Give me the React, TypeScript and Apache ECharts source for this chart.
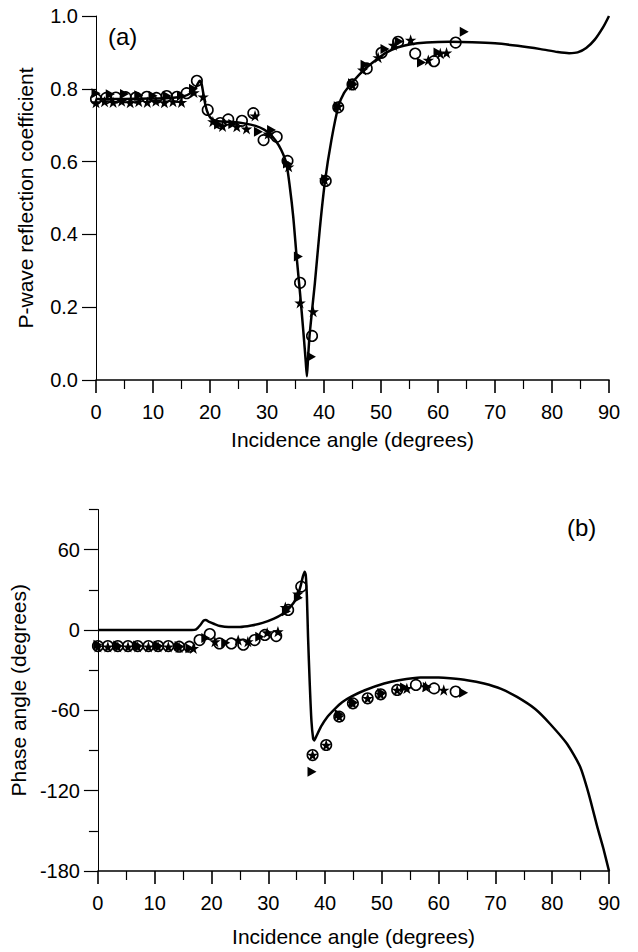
import React, { useEffect, useRef } from "react";
import * as echarts from "echarts";

const FONT = "'Liberation Sans', Arial, Helvetica, sans-serif";

const xTitle = "Incidence angle (degrees)";
const yTitleA = "P-wave reflection coefficient";
const yTitleB = "Phase angle (degrees)";
const panelLabels = ["(a)", "(b)"];

const phaseMajorTicks = [-180, -120, -60, 0, 60];
const phaseMinorTicks = [-150, -90, -30, 30, 90];

// (a) theoretical reflection coefficient curve [angle, |R|]
const curveA: [number, number][] = [
  [0, 0.772], [4, 0.772], [8, 0.773], [12, 0.774], [14, 0.776], [15.5, 0.78],
  [16.5, 0.787], [17.3, 0.798], [17.8, 0.812], [18.2, 0.822], [18.5, 0.815],
  [18.8, 0.79], [19.2, 0.755], [19.7, 0.73], [20.3, 0.717], [21, 0.712],
  [22, 0.71], [24, 0.709], [26, 0.705], [28, 0.698], [29.5, 0.688],
  [30.5, 0.676], [31.5, 0.658], [32.5, 0.632], [33.4, 0.595], [34, 0.531],
  [34.6, 0.449], [35.2, 0.338], [35.8, 0.238], [36.4, 0.129], [36.8, 0.05],
  [37, 0.01], [37.2, 0.06], [37.5, 0.129], [38.4, 0.266], [39.3, 0.421],
  [40.2, 0.549], [41.3, 0.659], [42.5, 0.75], [43.5, 0.788], [45, 0.818],
  [47, 0.852], [49, 0.878], [51, 0.9], [53, 0.914], [55, 0.922], [58, 0.927],
  [62, 0.929], [66, 0.928], [70, 0.925], [74, 0.918], [78, 0.909], [81, 0.901],
  [83, 0.898], [84.5, 0.9], [86, 0.912], [87.5, 0.935], [89, 0.97], [90, 1.0],
];

// (a) measured points
const circlesA: [number, number][] = [
  [0, 0.772], [1.8, 0.775], [3.5, 0.776], [5.2, 0.777], [7, 0.776], [8.9, 0.778],
  [10.6, 0.775], [12.4, 0.78], [14.2, 0.778], [15.9, 0.788], [17.7, 0.822],
  [19.6, 0.742], [21.8, 0.706], [23.2, 0.716], [25.6, 0.712], [27.6, 0.733],
  [29.4, 0.659], [31.7, 0.668], [33.6, 0.602], [35.8, 0.267], [37.9, 0.121],
  [40.3, 0.547], [42.5, 0.749], [45, 0.812], [47.5, 0.856], [50.1, 0.899],
  [53, 0.929], [56, 0.897], [59.3, 0.876], [63.1, 0.927],
];
const starsA: [number, number][] = [
  [0, 0.762], [1.5, 0.765], [3, 0.763], [4.5, 0.766], [6, 0.762], [7.5, 0.765],
  [9, 0.763], [10.5, 0.766], [12, 0.762], [13.5, 0.765], [15, 0.763],
  [17.2, 0.79], [18.8, 0.778], [20.5, 0.71], [22.2, 0.697], [24.7, 0.696],
  [26.4, 0.69], [27.9, 0.726], [30.2, 0.676], [33.8, 0.586], [35.8, 0.212],
  [38.1, 0.188], [40.1, 0.55], [42.5, 0.752], [45, 0.81], [46.8, 0.852],
  [49.5, 0.886], [52.2, 0.92], [55.2, 0.934], [58.3, 0.879], [60.4, 0.897],
  [61.5, 0.899],
];
const trianglesA: [number, number][] = [
  [0, 0.788], [2.5, 0.785], [5, 0.786], [7.5, 0.782], [10, 0.781], [12.5, 0.78],
  [15, 0.781], [17.1, 0.8], [21.5, 0.702], [24, 0.703], [28.5, 0.682],
  [30.8, 0.687], [33.6, 0.595], [35.5, 0.339], [37.8, 0.064], [40.3, 0.552],
  [42.5, 0.752], [45, 0.815], [47.2, 0.866], [50.7, 0.909], [53.2, 0.93],
  [57.1, 0.872], [60, 0.9], [64.6, 0.957],
];

// (b) theoretical phase curve [angle, degrees]
const curveB: [number, number][] = [
  [0, 0], [10, 0], [16.5, 0], [17.3, 0.5], [18, 3.5], [18.6, 7], [19, 7.5],
  [19.6, 6], [20.5, 4.5], [21.5, 3], [23, 2.2], [25, 2.2], [27, 3.3],
  [29, 5.3], [31, 8.5], [32.5, 12], [33.5, 15.5], [34.5, 20.5], [35.2, 26],
  [35.7, 33], [36.1, 40], [36.4, 43.5], [36.6, 41], [36.8, 25], [37, -5],
  [37.3, -40], [37.6, -68], [37.9, -81], [38.1, -82.5], [38.5, -79],
  [39.3, -72], [40.3, -65.5], [41.6, -59.5], [43, -54], [44.6, -49.8],
  [47, -45], [50.4, -40], [53, -37.5], [56.8, -35.4], [60, -35.5], [62, -36.1],
  [65, -37.5], [68, -40], [71, -44], [73.8, -50], [77, -59], [79.6, -70],
  [82.6, -85], [84.9, -102], [86.4, -122], [88, -148], [89, -163], [90, -180],
];

// (b) measured points
const circlesB: [number, number][] = [
  [0, -12], [1.75, -12], [3.5, -12], [5.3, -12], [7, -12], [8.9, -12],
  [10.6, -12], [12.4, -12], [14.3, -12.5], [16.1, -12.5], [17.9, -7.5],
  [19.7, -3], [21.4, -10], [23.5, -10], [25.6, -11], [27.6, -7.5],
  [29.4, -3.7], [31.4, -4.5], [33.5, 15], [35.8, 32.4], [37.8, -93.4],
  [40.2, -85.9], [42.5, -64.7], [44.9, -54.8], [47.5, -51], [49.8, -48],
  [52.7, -44.8], [56, -41], [59.2, -43.6], [63, -46],
];
const starsB: [number, number][] = [
  [0, -12.5], [1.75, -12.5], [3.5, -12.5], [5.3, -12.5], [7, -12.5],
  [8.9, -12.5], [10.6, -12.5], [12.4, -12.5], [14.3, -13], [16.8, -13.7],
  [20.6, -8.7], [24.7, -7.5], [26.4, -8.7], [29.8, -2], [31.7, -1.2],
  [33, 17], [35.2, 27], [37.8, -93.4], [40.2, -85.9], [42.5, -64.7],
  [44.9, -54.8], [47.5, -51], [49.8, -48], [52.7, -44.8], [54.4, -43.6],
  [57.7, -42.3], [60.9, -44.8],
];
const trianglesB: [number, number][] = [
  [0, -11], [3.5, -11.5], [7, -11.5], [10.6, -11.5], [14.3, -12],
  [16.2, -13.7], [19, -6], [22.5, -9.5], [28.5, -5], [33.2, 14], [35.3, 24],
  [37.7, -105.8], [42.5, -63], [45, -54], [50, -47], [54, -43], [58, -42.5],
  [64.4, -46.8],
];

const STAR =
  "path://M12,0 L14.8,8.6 L23.4,8.6 L16.4,13.8 L19.1,22.4 L12,17.2 L4.9,22.4 L7.6,13.8 L0.6,8.6 L9.2,8.6 Z";
const TRI = "path://M0,0 L10,5 L0,10 Z";

function xAxisFor(gridIndex: number, nameGap: number) {
  return {
    type: "value",
    gridIndex,
    min: 0,
    max: 90,
    interval: 10,
    axisLine: { show: true, onZero: false, lineStyle: { color: "#000", width: 1.6 } },
    axisTick: { show: true, inside: false, length: 13, lineStyle: { color: "#000", width: 1.6 } },
    minorTick: { show: true, splitNumber: 2, length: 9, lineStyle: { color: "#000", width: 1.2 } },
    splitLine: { show: false },
    minorSplitLine: { show: false },
    axisLabel: { fontSize: 20, color: "#000", margin: 22, fontFamily: FONT },
    name: xTitle,
    nameLocation: "middle",
    nameGap,
    nameTextStyle: { fontSize: 21, color: "#000", fontFamily: FONT },
  };
}

function scatter(name: string, data: [number, number][], idx: number, kind: string) {
  const base: any = {
    name,
    type: "scatter",
    xAxisIndex: idx,
    yAxisIndex: idx,
    data,
    z: 3,
  };
  if (kind === "circle") {
    base.symbol = "circle";
    base.symbolSize = 10.5;
    base.itemStyle = { color: "rgba(255,255,255,0)", borderColor: "#000", borderWidth: 1.6, opacity: 1 };
    base.z = 4;
  } else if (kind === "star") {
    base.symbol = STAR;
    base.symbolSize = 11.5;
    base.symbolKeepAspect = true;
    base.itemStyle = { color: "#000", opacity: 1 };
  } else {
    base.symbol = TRI;
    base.symbolSize = [9, 10];
    base.itemStyle = { color: "#000", opacity: 1 };
  }
  return base;
}

export default function App() {
  const ref = useRef<HTMLDivElement>(null);
  useEffect(() => {
    document.body.style.margin = "0";
    const chart = echarts.init(ref.current!, null, { renderer: "svg" });
    const option: any = {
      animation: false,
      backgroundColor: "#fff",
      textStyle: { fontFamily: FONT },
      grid: [
        { left: 96, top: 16, width: 513, height: 364 },
        { left: 96, top: 509.5, width: 513, height: 361.5 },
      ],
      xAxis: [xAxisFor(0, 49), xAxisFor(1, 55)],
      yAxis: [
        {
          type: "value",
          gridIndex: 0,
          min: 0,
          max: 1,
          interval: 0.2,
          axisLine: { show: true, lineStyle: { color: "#000", width: 1 } },
          axisTick: { show: true, inside: false, length: 14, lineStyle: { color: "#000", width: 1.2 } },
          splitLine: { show: false },
          axisLabel: {
            fontSize: 20,
            color: "#000",
            margin: 18,
            fontFamily: FONT,
            formatter: (v: number) => v.toFixed(1),
          },
          name: yTitleA,
          nameLocation: "middle",
          nameGap: 60,
          nameRotate: 90,
          nameTextStyle: { fontSize: 21, color: "#000", fontFamily: FONT },
        },
        {
          type: "value",
          gridIndex: 1,
          min: -180,
          max: 90,
          interval: 60,
          axisLine: { show: true, lineStyle: { color: "#000", width: 1 } },
          axisTick: {
            show: true,
            inside: false,
            length: 14,
            customValues: phaseMajorTicks,
            lineStyle: { color: "#000", width: 1.2 },
          },
          splitLine: { show: false },
          axisLabel: {
            fontSize: 20,
            color: "#000",
            margin: 18,
            fontFamily: FONT,
            customValues: phaseMajorTicks,
          },
          name: yTitleB,
          nameLocation: "middle",
          nameGap: 60,
          nameRotate: 90,
          nameTextStyle: { fontSize: 21, color: "#000", fontFamily: FONT },
        },
        {
          type: "value",
          gridIndex: 1,
          min: -180,
          max: 90,
          interval: 30,
          position: "left",
          offset: 0,
          axisLine: { show: false },
          axisTick: {
            show: true,
            inside: false,
            length: 9,
            customValues: phaseMinorTicks,
            lineStyle: { color: "#000", width: 1.2 },
          },
          splitLine: { show: false },
          axisLabel: { show: false },
        },
      ],
      graphic: [
        {
          type: "text",
          left: 108,
          top: 24,
          style: { text: panelLabels[0], fontSize: 24, fill: "#000", fontFamily: FONT },
        },
        {
          type: "text",
          left: 567,
          top: 515,
          style: { text: panelLabels[1], fontSize: 24, fill: "#000", fontFamily: FONT },
        },
      ],
      series: [
        {
          name: "theoryA",
          type: "line",
          xAxisIndex: 0,
          yAxisIndex: 0,
          data: curveA,
          showSymbol: false,
          smooth: 0.25,
          lineStyle: { color: "#000", width: 2.5 },
          z: 2,
        },
        scatter("circlesA", circlesA, 0, "circle"),
        scatter("starsA", starsA, 0, "star"),
        scatter("trianglesA", trianglesA, 0, "tri"),
        {
          name: "theoryB",
          type: "line",
          xAxisIndex: 1,
          yAxisIndex: 1,
          data: curveB,
          showSymbol: false,
          smooth: 0.2,
          lineStyle: { color: "#000", width: 2.5 },
          z: 2,
        },
        scatter("circlesB", circlesB, 1, "circle"),
        scatter("starsB", starsB, 1, "star"),
        scatter("trianglesB", trianglesB, 1, "tri"),
      ],
    };
    chart.setOption(option);
    return () => chart.dispose();
  }, []);
  return <div ref={ref} style={{ width: 638, height: 952 }} />;
}
